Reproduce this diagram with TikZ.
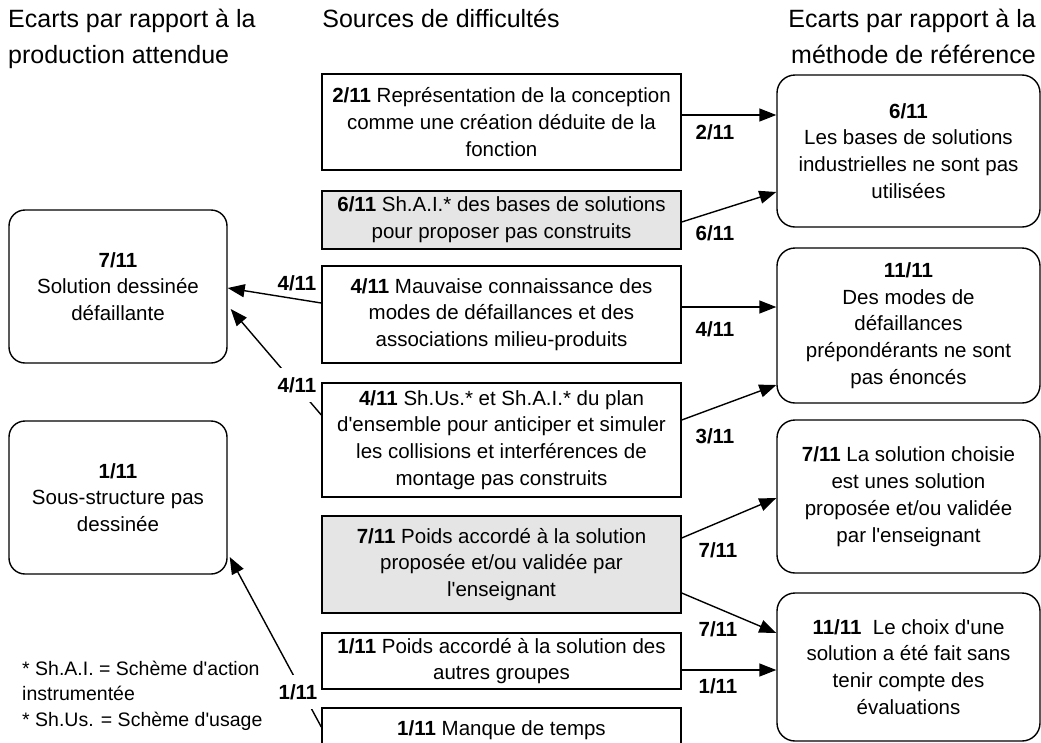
\documentclass[tikz,border=0pt]{standalone}
\usepackage{fontspec}
\setmainfont{Liberation Sans}[Ligatures=TeXOff]
\usetikzlibrary{arrows.meta}
\begin{document}
\begin{tikzpicture}[x=1pt,y=-1pt,
  box/.style={draw, line width=1.4pt, align=center, inner sep=0pt,
    font=\fontsize{20.5}{26.8}\selectfont},
  gbox/.style={box, fill=gray!20},
  rbox/.style={box, rounded corners=18pt},
  arr/.style={line width=1.4pt, -{Triangle[length=17pt,width=13pt]}},
  lab/.style={font=\bfseries\fontsize{20.5}{24}\selectfont, inner sep=1pt},
  wlab/.style={lab, fill=white, inner xsep=2pt, inner ysep=9pt},
  ttl/.style={font=\fontsize{25}{30}\selectfont, inner sep=0pt},
  fn/.style={font=\fontsize{19.5}{26}\selectfont, inner sep=0pt, anchor=base west}]
\useasboundingbox (0,0) rectangle (1041,742);
% titles
\node[ttl, anchor=base west] (t1a) at (8,27) {Ecarts par rapport à la};
\node[ttl, anchor=base west] (t1b) at (8,63) {production attendue};
\node[ttl, anchor=base] (t2) at (441,27) {Sources de difficultés};
\node[ttl, anchor=base east] (t3a) at (1036,27) {Ecarts par rapport à la};
\node[ttl, anchor=base east] (t3b) at (1036,63) {méthode de référence};
% middle boxes
\node[box, minimum width=359pt, minimum height=96pt] (A) at (501.5,122)
  {\textbf{2/11} Représentation de la conception\\comme une création déduite de la\\fonction};
\node[gbox, minimum width=359pt, minimum height=58pt] (B) at (501.5,220)
  {\textbf{6/11} Sh.A.I.* des bases de solutions\\pour proposer pas construits};
\node[box, minimum width=359pt, minimum height=97pt] (C) at (501.5,314.5)
  {\textbf{4/11} Mauvaise connaissance des\\modes de défaillances et des\\associations milieu-produits};
\node[box, minimum width=359pt, minimum height=114pt] (D) at (501.5,440)
  {\textbf{4/11} Sh.Us.* et Sh.A.I.* du plan\\d'ensemble pour anticiper et simuler\\les collisions et interférences de\\montage pas construits};
\node[gbox, minimum width=359pt, minimum height=97pt] (E) at (501.5,564.5)
  {\textbf{7/11} Poids accordé à la solution\\proposée et/ou validée par\\l'enseignant};
\node[box, minimum width=359pt, minimum height=56pt] (F) at (501.5,661)
  {\textbf{1/11} Poids accordé à la solution des\\autres groupes};
\node[box, minimum width=359pt, minimum height=44pt] (G) at (501.5,730)
  {\textbf{1/11} Manque de temps};
% left boxes
\node[rbox, rounded corners=16pt, minimum width=218pt, minimum height=153pt] (L1) at (118,286.5)
  {\textbf{7/11}\\Solution dessinée\\défaillante};
\node[rbox, rounded corners=16pt, minimum width=218pt, minimum height=153pt] (L2) at (118,497.5)
  {\textbf{1/11}\\Sous-structure pas\\dessinée};
% right boxes
\node[rbox, minimum width=263pt, minimum height=152pt] (R1) at (908.5,151)
  {\textbf{6/11}\\Les bases de solutions\\industrielles ne sont pas\\utilisées};
\node[rbox, minimum width=263pt, minimum height=155pt] (R2) at (908.5,325.5)
  {\textbf{11/11}\\Des modes de\\défaillances\\prépondérants ne sont\\pas énoncés};
\node[rbox, minimum width=263pt, minimum height=153pt] (R3) at (908.5,496.5)
  {\textbf{7/11} La solution choisie\\est unes solution\\proposée et/ou validée\\par l'enseignant};
\node[rbox, minimum width=263pt, minimum height=148pt] (R4) at (908.5,667)
  {\textbf{11/11}\ \ Le choix d'une\\solution a été fait sans\\tenir compte des\\évaluations};
% connectors
\draw[arr] ([yshift=7pt]A.east) -- ([yshift=36pt]R1.west);
\draw[arr] ([yshift=-2pt]B.east) -- ([yshift=-41pt]R1.west);
\draw[arr] ([yshift=7.5pt]C.east) -- ([yshift=18.5pt]R2.west);
\draw[arr] ([yshift=20pt]D.east) -- ([yshift=-59.5pt]R2.west);
\draw[arr] ([yshift=26.5pt]E.east) -- ([yshift=-1.5pt]R3.west);
\draw[arr] ([yshift=-28.5pt]E.east) -- ([yshift=34pt]R4.west);
\draw[arr] ([yshift=-9pt]F.east) -- ([yshift=-3pt]R4.west);
\draw[arr] ([yshift=11.5pt]C.west) -- ([yshift=-1.5pt]L1.east);
\draw[arr] ([yshift=25pt]D.west) -- ([xshift=3pt,yshift=-22.5pt]L1.east);
\draw[arr] ([yshift=3pt]G.west) -- ([xshift=2pt,yshift=-59.5pt]L2.east);
% labels
\node[lab] (l1) at (715,132) {2/11};
\node[lab] (l2) at (715,233) {6/11};
\node[lab] (l3) at (715,329) {4/11};
\node[lab] (l4) at (715,436) {3/11};
\node[lab] (l5) at (718,550) {7/11};
\node[lab] (l6) at (718,629) {7/11};
\node[lab] (l7) at (718,686) {1/11};
\node[lab] (l8) at (297,283) {4/11};
\node[wlab] (l9) at (297,385) {4/11};
\node[wlab] (l10) at (298,692) {1/11};
% footnote
\node[fn] (n1) at (22,675) {* Sh.A.I. = Schème d'action};
\node[fn] (n2) at (22,700) {instrumentée};
\node[fn] (n3) at (22,726) {* Sh.Us. = Schème d'usage};
\end{tikzpicture}
\end{document}
